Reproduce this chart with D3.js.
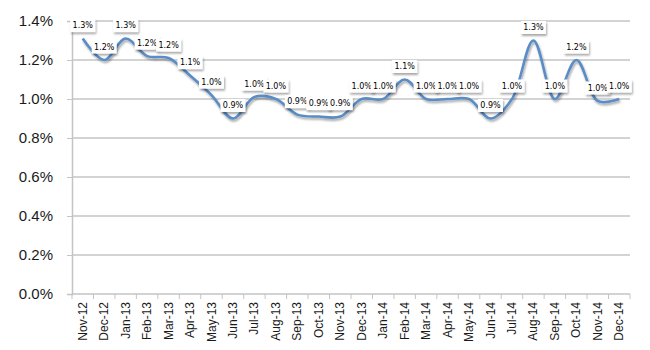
<!DOCTYPE html>
<html>
<head>
<meta charset="utf-8">
<script src="https://cdn.jsdelivr.net/npm/d3@7"></script>
<style>
  body { margin: 0; background: #fff; }
  svg { display: block; font-family: "Liberation Sans", Arial, sans-serif; }
</style>
</head>
<body>
<svg width="650" height="350"></svg>
<script>
// months along the bottom
const months = ["Nov-12","Dec-12","Jan-13","Feb-13","Mar-13","Apr-13","May-13","Jun-13","Jul-13","Aug-13",
  "Sep-13","Oct-13","Nov-13","Dec-13","Jan-14","Feb-14","Mar-14","Apr-14","May-14","Jun-14",
  "Jul-14","Aug-14","Sep-14","Oct-14","Nov-14","Dec-14"];
// rate in percent
const rates = [1.31,1.2,1.31,1.22,1.21,1.12,1.02,0.9,1.01,1.0,
  0.92,0.91,0.91,1.0,1.0,1.1,1.0,1.0,1.0,0.9,
  1.0,1.3,1.0,1.2,0.99,1.0];
// what each point's label says
const labels = ["1.3%","1.2%","1.3%","1.2%","1.2%","1.1%","1.0%","0.9%","1.0%","1.0%",
  "0.9%","0.9%","0.9%","1.0%","1.0%","1.1%","1.0%","1.0%","1.0%","0.9%",
  "1.0%","1.3%","1.0%","1.2%","1.0%","1.0%"];
const yTicks = [0,0.2,0.4,0.6,0.8,1.0,1.2,1.4];

const margin = {top: 21, right: 20, bottom: 56, left: 72},
    width = 650 - margin.left - margin.right,
    height = 350 - margin.top - margin.bottom;

const svg = d3.select("svg");

const defs = svg.append("defs");
const shadow = defs.append("filter").attr("id", "shadow")
  .attr("x", "-10%").attr("y", "-10%").attr("width", "130%").attr("height", "140%");
shadow.append("feGaussianBlur").attr("in", "SourceAlpha").attr("stdDeviation", 1.2);
shadow.append("feOffset").attr("dx", 1).attr("dy", 2).attr("result", "off");
shadow.append("feComponentTransfer").append("feFuncA").attr("type", "linear").attr("slope", 0.35);
const merge = shadow.append("feMerge");
merge.append("feMergeNode");
merge.append("feMergeNode").attr("in", "SourceGraphic");

const g = svg.append("g").attr("transform", `translate(${margin.left},${margin.top})`);

const x = d3.scaleBand().domain(months).range([0, width]);
const y = d3.scaleLinear().domain([0, 1.4]).range([height, 0]);

// gridlines
g.append("g").selectAll("line")
  .data(yTicks.filter(d => d > 0))
  .join("line")
  .attr("x1", 0).attr("x2", width)
  .attr("y1", d => y(d)).attr("y2", d => y(d))
  .attr("stroke", "#c4c4c4").attr("stroke-width", 1.5);

// y axis
const yAxis = g.append("g")
  .call(d3.axisLeft(y).tickValues(yTicks).tickFormat(d => d.toFixed(1) + "%").tickSize(5).tickPadding(14));
yAxis.select(".domain").attr("stroke", "#c4c4c4").attr("stroke-width", 1.5);
yAxis.selectAll(".tick line").attr("stroke", "#c4c4c4");
yAxis.selectAll("text").attr("font-size", 15).attr("fill", "#1a1a1a");

// x axis, ticks sit between months
const xAxis = g.append("g").attr("transform", `translate(0,${height})`);
xAxis.append("line").attr("x1", 0).attr("x2", width)
  .attr("stroke", "#c4c4c4").attr("stroke-width", 1.5);
xAxis.selectAll(".tk").data(months.concat(["end"]))
  .join("line")
  .attr("x1", (d, i) => i * x.step()).attr("x2", (d, i) => i * x.step())
  .attr("y1", 0).attr("y2", 5)
  .attr("stroke", "#c4c4c4");
xAxis.selectAll("text").data(months)
  .join("text")
  .attr("transform", d => `translate(${x(d) + x.bandwidth() / 2 + 4},8) rotate(-90)`)
  .attr("text-anchor", "end")
  .attr("font-size", 12)
  .attr("fill", "#1a1a1a")
  .text(d => d);

// line
const line = d3.line()
  .x((d, i) => x(months[i]) + x.bandwidth() / 2)
  .y(d => y(d))
  .curve(d3.curveCatmullRom.alpha(0.5));

g.append("path")
  .datum(rates)
  .attr("d", line)
  .attr("fill", "none")
  .attr("stroke", "#5a8cc6")
  .attr("stroke-width", 2.6)
  .attr("filter", "url(#shadow)");

// data labels
const lab = g.append("g").selectAll("g")
  .data(rates)
  .join("g")
  .attr("transform", (d, i) => `translate(${x(months[i]) + x.bandwidth() / 2},${y(d) - 13})`);

lab.append("rect")
  .attr("x", -12.5).attr("y", -6.5).attr("width", 25).attr("height", 13)
  .attr("fill", "#fff")
  .attr("filter", "url(#shadow)");

lab.append("text")
  .attr("text-anchor", "middle")
  .attr("dy", "0.35em")
  .attr("font-family", "'DejaVu Sans', Verdana, sans-serif")
  .attr("font-size", 8)
  .attr("fill", "#000")
  .text((d, i) => labels[i]);
</script>
</body>
</html>
